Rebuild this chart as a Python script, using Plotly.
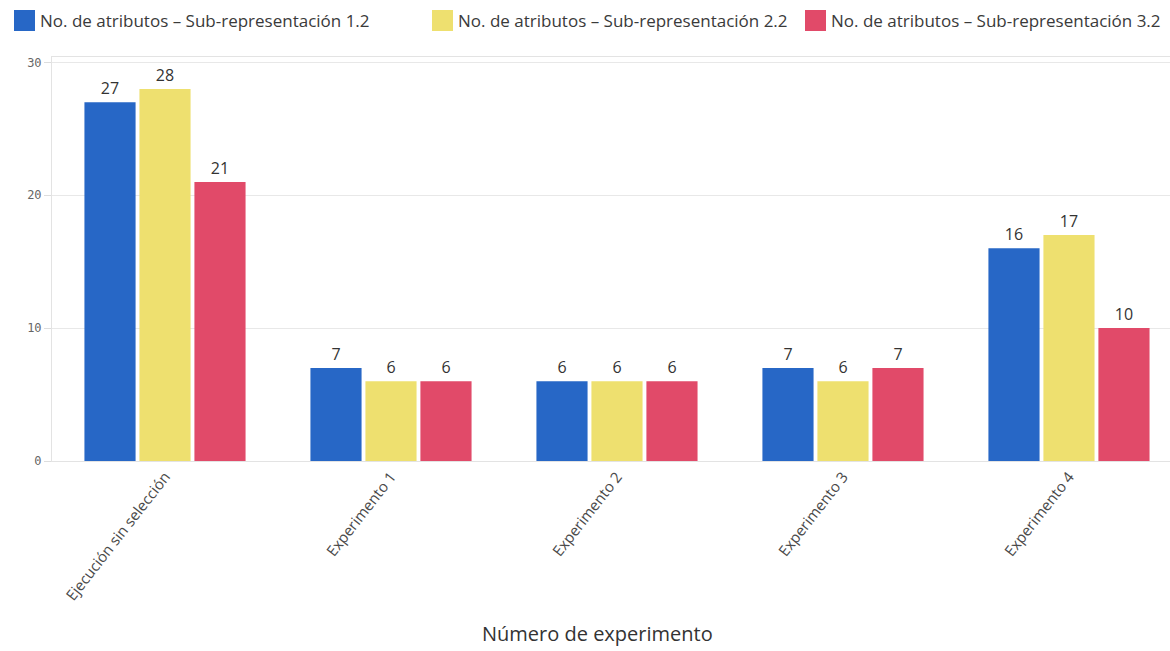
import plotly.graph_objects as go

# Experiment categories (x axis)
categories = [
    "Ejecución sin selección",
    "Experimento 1",
    "Experimento 2",
    "Experimento 3",
    "Experimento 4",
]

# Number of attributes per sub-representation
series_names = [
    "No. de atributos – Sub-representación 1.2",
    "No. de atributos – Sub-representación 2.2",
    "No. de atributos – Sub-representación 3.2",
]
sub_rep_1_2 = [27, 7, 6, 7, 16]
sub_rep_2_2 = [28, 6, 6, 6, 17]
sub_rep_3_2 = [21, 6, 6, 7, 10]

y_ticks = [0, 10, 20, 30]

colors = ["#2767c6", "#eee06f", "#e14a69"]
series_values = [sub_rep_1_2, sub_rep_2_2, sub_rep_3_2]

W, H = 1170, 651
M_L, M_R, M_T, M_B = 52, 0, 57, 190
PW, PH = W - M_L - M_R, H - M_T - M_B

fig = go.Figure()
for name, vals, col in zip(series_names, series_values, colors):
    fig.add_trace(go.Bar(
        x=categories,
        y=vals,
        name=name,
        marker=dict(color=col, line=dict(width=0)),
        text=[str(v) for v in vals],
        textposition="outside",
        textfont=dict(family="Open Sans", size=16, color="#333333"),
        cliponaxis=False,
        showlegend=False,
    ))


def px_x(p):
    return (p - M_L) / PW


def px_y(p):
    return (H - M_B - p) / PH


# Legend row drawn as coloured squares with labels
legend_x = [14, 432, 805]
shapes = []
annotations = []
for lx, name, col in zip(legend_x, series_names, colors):
    shapes.append(dict(
        type="rect", xref="paper", yref="paper",
        x0=px_x(lx), x1=px_x(lx + 21), y0=px_y(31), y1=px_y(10),
        fillcolor=col, line=dict(width=0),
    ))
    annotations.append(dict(
        text=name, xref="paper", yref="paper",
        x=px_x(lx + 24), y=px_y(21), xanchor="left", yanchor="middle",
        showarrow=False,
        font=dict(family="Open Sans", size=17, color="#3a3a3a"),
    ))

# Axis title
annotations.append(dict(
    text="Número de experimento", xref="paper", yref="paper",
    x=px_x(597), y=px_y(633), xanchor="center", yanchor="middle",
    showarrow=False,
    font=dict(family="Open Sans", size=20, color="#333333"),
))

fig.update_layout(
    width=W, height=H,
    margin=dict(l=M_L, r=M_R, t=M_T, b=M_B, pad=0),
    paper_bgcolor="white",
    plot_bgcolor="white",
    barmode="group",
    bargap=0.27,
    bargroupgap=0.07,
    shapes=shapes,
    annotations=annotations,
    xaxis=dict(
        range=[-0.5, 4.447],
        tickangle=-52,
        tickfont=dict(family="Open Sans", size=15, color="#4a4a4a"),
        showline=True, linecolor="#e3e3e3", linewidth=1, mirror=True,
        showgrid=False, ticks="",
    ),
    yaxis=dict(
        range=[0, 30.4],
        tickvals=y_ticks,
        tickfont=dict(family="DejaVu Sans Mono", size=12, color="#666666"),
        showline=True, linecolor="#e3e3e3", linewidth=1, mirror=True,
        showgrid=True, gridcolor="#e8e8e8", gridwidth=1,
        ticks="outside", ticklen=7, tickcolor="#dddddd",
        zeroline=False,
    ),
)

fig.write_html("out.html")
